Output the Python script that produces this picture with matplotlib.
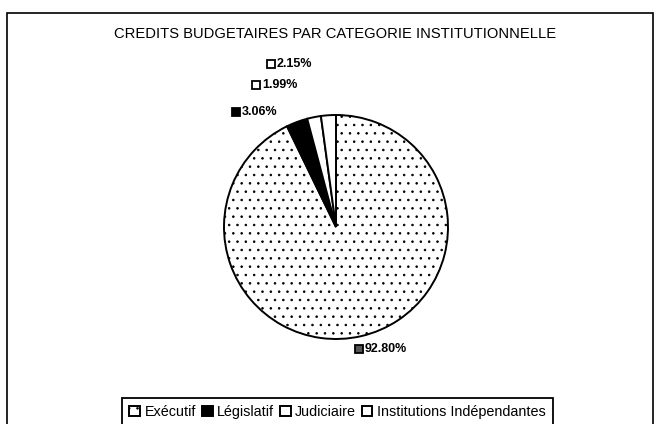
import matplotlib
matplotlib.use('Agg')
import matplotlib.pyplot as plt
from matplotlib.patches import Rectangle

# ---- data ----
categories = ['Exécutif', 'Législatif', 'Judiciaire', 'Institutions Indépendantes']
shares = [92.80, 3.06, 1.99, 2.15]
title = 'CREDITS BUDGETAIRES PAR CATEGORIE INSTITUTIONNELLE'

# ---- styles / layout ----
faces = ['white', 'black', 'white', 'white']
hatches = ['..', None, None, None]
# label anchor (left edge of key square, vertical centre) in pie-radius units
label_pos = [(0.170, -1.089), (-0.929, 1.027), (-0.75, 1.268), (-0.616, 1.455)]
key_faces = ['#555555', 'black', 'white', 'white']

W, H, DPI = 657, 424, 100
plt.rcParams['font.family'] = ['Liberation Sans', 'DejaVu Sans']
plt.rcParams['hatch.color'] = '#333333'
plt.rcParams['hatch.linewidth'] = 0.6

fig = plt.figure(figsize=(W / DPI, H / DPI), dpi=DPI)
fig.patch.set_facecolor('white')

# outer frame
fig.patches.append(Rectangle((7 / W, -0.02), 646 / W, 1 - 13 / H + 0.02,
                             transform=fig.transFigure, fill=False,
                             edgecolor='black', linewidth=1.2))

ax = fig.add_axes([0, 0, 1, 1])
cx, cy, r = 336, 424 - 227, 112
wedges, _ = ax.pie(shares, startangle=90, counterclock=False, colors=faces,
                   wedgeprops=dict(edgecolor='black', linewidth=1.4))
for w, h in zip(wedges, hatches):
    if h:
        w.set_hatch(h)
ax.set_xlim(-cx / r, (W - cx) / r)
ax.set_ylim(-cy / r, (H - cy) / r)
ax.set_aspect('equal')
ax.axis('off')

# percentage labels with key squares
sq = 0.075
for (x, y), val, kf in zip(label_pos, shares, key_faces):
    ax.add_patch(Rectangle((x, y - sq / 2), sq, sq, facecolor=kf,
                           edgecolor='black', linewidth=1.3))
    ax.text(x + sq + 0.015, y, f'{val:.2f}%', ha='left', va='center',
            fontsize=9, fontweight='bold')

fig.text(335 / W, 1 - 34.5 / H, title, ha='center', va='center',
         fontsize=10.6)

leg = fig.legend(wedges, categories, loc='upper center',
                 bbox_to_anchor=(337.5 / W, 1 - 398 / H), ncol=4,
                 fontsize=10.4, frameon=True, fancybox=False,
                 edgecolor='black', framealpha=1, borderaxespad=0,
                 handlelength=0.75, handleheight=0.75, handletextpad=0.3,
                 columnspacing=0.4, borderpad=0.5)
leg.get_frame().set_linewidth(1.3)

fig.savefig('out.png', dpi=DPI, facecolor='white')
